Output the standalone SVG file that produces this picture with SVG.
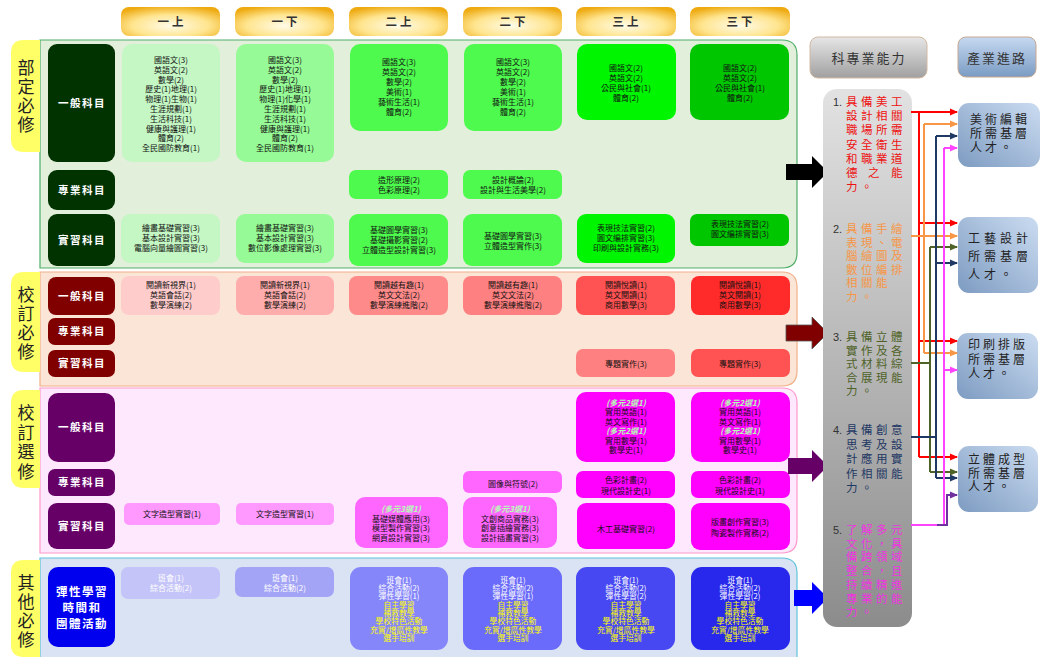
<svg xmlns="http://www.w3.org/2000/svg" width="1041" height="657" viewBox="0 0 1041 657">
<defs>
<radialGradient id="gold" cx="50%" cy="65%" r="70%"><stop offset="0" stop-color="#fffbe8"/><stop offset="0.55" stop-color="#ffe58f"/><stop offset="1" stop-color="#eeaa10"/></radialGradient>
<linearGradient id="grayCol" x1="0" y1="0" x2="0" y2="1"><stop offset="0" stop-color="#e2e2e2"/><stop offset="1" stop-color="#8c8c8c"/></linearGradient>
<linearGradient id="grayHead" x1="0" y1="0" x2="0" y2="1"><stop offset="0" stop-color="#e6e6e6"/><stop offset="1" stop-color="#a0a0a0"/></linearGradient>
<linearGradient id="blueHead" x1="0" y1="0" x2="0" y2="1"><stop offset="0" stop-color="#c6d9f1"/><stop offset="1" stop-color="#7a9bc3"/></linearGradient>
<linearGradient id="career" x1="1" y1="0" x2="0" y2="1"><stop offset="0" stop-color="#cbdcf1"/><stop offset="1" stop-color="#7d9bc1"/></linearGradient>
<marker id="aR" markerWidth="8" markerHeight="8" refX="7" refY="4" orient="auto" markerUnits="userSpaceOnUse"><path d="M0,0.5 L8,4 L0,7.5 z" fill="#ff0000"/></marker>
<marker id="aO" markerWidth="8" markerHeight="8" refX="7" refY="4" orient="auto" markerUnits="userSpaceOnUse"><path d="M0,0.5 L8,4 L0,7.5 z" fill="#f79646"/></marker>
<marker id="aG" markerWidth="8" markerHeight="8" refX="7" refY="4" orient="auto" markerUnits="userSpaceOnUse"><path d="M0,0.5 L8,4 L0,7.5 z" fill="#4f6228"/></marker>
<marker id="aN" markerWidth="8" markerHeight="8" refX="7" refY="4" orient="auto" markerUnits="userSpaceOnUse"><path d="M0,0.5 L8,4 L0,7.5 z" fill="#1f3864"/></marker>
<marker id="aM" markerWidth="8" markerHeight="8" refX="7" refY="4" orient="auto" markerUnits="userSpaceOnUse"><path d="M0,0.5 L8,4 L0,7.5 z" fill="#ff44ff"/></marker>
<marker id="aP" markerWidth="8" markerHeight="8" refX="7" refY="4" orient="auto" markerUnits="userSpaceOnUse"><path d="M0,0.5 L8,4 L0,7.5 z" fill="#7030a0"/></marker>
</defs>
<style>
text{font-family:"Noto Sans CJK TC","Noto Sans CJK SC",sans-serif;}
.t{font-size:8px;text-anchor:middle;fill:#111;}
.ts{font-size:7.8px;text-anchor:middle;}
.w{fill:#fff;}
.y{fill:#ffff00;}
.it{font-style:italic;font-weight:bold;fill:#b4ffb4;}
.hd{font-size:11.5px;font-weight:bold;text-anchor:middle;fill:#333;letter-spacing:3px;}
.lab{font-size:10.5px;font-weight:bold;text-anchor:middle;fill:#fff;letter-spacing:1.5px;}
.tab{font-size:17px;text-anchor:middle;fill:#222;}
.ab{font-size:11.5px;}
.num{font-family:"Liberation Sans",sans-serif;font-size:11px;fill:#333;}
.car{font-size:12px;fill:#222;}
.gh{font-size:13px;text-anchor:middle;fill:#333;letter-spacing:2px;}
.wire{fill:none;stroke-width:2;}
</style>

<g id="headers">
<rect x="121" y="7" width="99" height="29" rx="8" fill="url(#gold)"/><text class="hd" x="172" y="26">一上</text>
<rect x="235" y="7" width="99" height="29" rx="8" fill="url(#gold)"/><text class="hd" x="286" y="26">一下</text>
<rect x="349" y="7" width="99" height="29" rx="8" fill="url(#gold)"/><text class="hd" x="400" y="26">二上</text>
<rect x="463" y="7" width="99" height="29" rx="8" fill="url(#gold)"/><text class="hd" x="514" y="26">二下</text>
<rect x="576" y="7" width="100" height="29" rx="8" fill="url(#gold)"/><text class="hd" x="627" y="26">三上</text>
<rect x="690" y="7" width="100" height="29" rx="8" fill="url(#gold)"/><text class="hd" x="741" y="26">三下</text>
</g>

<g id="sec1">
<path d="M40,40 H782 Q797,40 797,55 V253 Q797,268 782,268 H40 Z" fill="#e2efda" stroke="#4fae6a" stroke-width="1.2"/>
<path d="M40,40 H24 Q11,40 11,53 V139 Q11,152 24,152 H40 Z" fill="#ffff66"/>
<text class="tab"><tspan x="26" y="74">部</tspan><tspan x="26" dy="19">定</tspan><tspan x="26" dy="19">必</tspan><tspan x="26" dy="19">修</tspan></text>
<rect x="48" y="44" width="67" height="118" rx="9" fill="#003300"/><text class="lab" x="82" y="107">一般科目</text>
<rect x="48" y="170" width="67" height="40" rx="9" fill="#003300"/><text class="lab" x="82" y="194">專業科目</text>
<rect x="48" y="214" width="67" height="52" rx="9" fill="#003300"/><text class="lab" x="82" y="244">實習科目</text>

<rect x="122" y="44" width="98" height="118" rx="10" fill="#c4f7c4"/>
<text class="t" y="63"><tspan x="171">國語文(3)</tspan><tspan x="171" dy="9.8">英語文(2)</tspan><tspan x="171" dy="9.8">數學(2)</tspan><tspan x="171" dy="9.8">歷史(1)地理(1)</tspan><tspan x="171" dy="9.8">物理(1)生物(1)</tspan><tspan x="171" dy="9.8">生涯規劃(1)</tspan><tspan x="171" dy="9.8">生活科技(1)</tspan><tspan x="171" dy="9.8">健康與護理(1)</tspan><tspan x="171" dy="9.8">體育(2)</tspan><tspan x="171" dy="9.8">全民國防教育(1)</tspan></text>
<rect x="236" y="44" width="98" height="118" rx="10" fill="#96fa96"/>
<text class="t" y="63"><tspan x="285">國語文(3)</tspan><tspan x="285" dy="9.8">英語文(2)</tspan><tspan x="285" dy="9.8">數學(2)</tspan><tspan x="285" dy="9.8">歷史(1)地理(1)</tspan><tspan x="285" dy="9.8">物理(1)化學(1)</tspan><tspan x="285" dy="9.8">生涯規劃(1)</tspan><tspan x="285" dy="9.8">生活科技(1)</tspan><tspan x="285" dy="9.8">健康與護理(1)</tspan><tspan x="285" dy="9.8">體育(2)</tspan><tspan x="285" dy="9.8">全民國防教育(1)</tspan></text>
<rect x="350" y="44" width="98" height="87" rx="10" fill="#4dfa4d"/>
<text class="t" y="65"><tspan x="399">國語文(3)</tspan><tspan x="399" dy="10">英語文(2)</tspan><tspan x="399" dy="10">數學(2)</tspan><tspan x="399" dy="10">美術(1)</tspan><tspan x="399" dy="10">藝術生活(1)</tspan><tspan x="399" dy="10">體育(2)</tspan></text>
<rect x="464" y="44" width="98" height="87" rx="10" fill="#4dfa4d"/>
<text class="t" y="65"><tspan x="513">國語文(3)</tspan><tspan x="513" dy="10">英語文(2)</tspan><tspan x="513" dy="10">數學(2)</tspan><tspan x="513" dy="10">美術(1)</tspan><tspan x="513" dy="10">藝術生活(1)</tspan><tspan x="513" dy="10">體育(2)</tspan></text>
<rect x="577" y="44" width="99" height="76" rx="10" fill="#00f500"/>
<text class="t" y="71"><tspan x="626">國語文(2)</tspan><tspan x="626" dy="10">英語文(2)</tspan><tspan x="626" dy="10">公民與社會(1)</tspan><tspan x="626" dy="10">體育(2)</tspan></text>
<rect x="690" y="44" width="99" height="76" rx="10" fill="#00c600"/>
<text class="t" y="71"><tspan x="740">國語文(2)</tspan><tspan x="740" dy="10">英語文(2)</tspan><tspan x="740" dy="10">公民與社會(1)</tspan><tspan x="740" dy="10">體育(2)</tspan></text>

<rect x="349" y="170" width="99" height="29" rx="7" fill="#4dfa4d"/>
<text class="t" y="183"><tspan x="399">造形原理(2)</tspan><tspan x="399" dy="10">色彩原理(2)</tspan></text>
<rect x="463" y="170" width="99" height="29" rx="7" fill="#4dfa4d"/>
<text class="t" y="183"><tspan x="513">設計概論(2)</tspan><tspan x="513" dy="10">設計與生活美學(2)</tspan></text>

<rect x="121" y="214" width="99" height="49" rx="9" fill="#c4f7c4"/>
<text class="t" y="231"><tspan x="171">繪畫基礎實習(3)</tspan><tspan x="171" dy="9.8">基本設計實習(3)</tspan><tspan x="171" dy="9.8">電腦向量繪圖實習(3)</tspan></text>
<rect x="236" y="214" width="98" height="49" rx="9" fill="#96fa96"/>
<text class="t" y="231"><tspan x="285">繪畫基礎實習(3)</tspan><tspan x="285" dy="9.8">基本設計實習(3)</tspan><tspan x="285" dy="9.8">數位影像處理實習(3)</tspan></text>
<rect x="349" y="214" width="99" height="52" rx="9" fill="#4dfa4d"/>
<text class="t" y="233"><tspan x="399">基礎圖學實習(3)</tspan><tspan x="399" dy="9.8">基礎攝影實習(2)</tspan><tspan x="399" dy="9.8">立體造型設計實習(3)</tspan></text>
<rect x="463" y="214" width="99" height="52" rx="9" fill="#4dfa4d"/>
<text class="t" y="239"><tspan x="513">基礎圖學實習(3)</tspan><tspan x="513" dy="9.8">立體造型實作(3)</tspan></text>
<rect x="577" y="214" width="98" height="49" rx="9" fill="#00f500"/>
<text class="t" y="231"><tspan x="626">表現技法實習(2)</tspan><tspan x="626" dy="9.8">圖文編排實習(3)</tspan><tspan x="626" dy="9.8">印刷與設計實務(3)</tspan></text>
<rect x="690" y="214" width="99" height="32" rx="7" fill="#00c600"/>
<text class="t" y="227"><tspan x="740">表現技法實習(2)</tspan><tspan x="740" dy="10">圖文編排實習(3)</tspan></text>
</g>

<g id="sec2">
<path d="M40,272 H782 Q797,272 797,287 V371 Q797,386 782,386 H40 Z" fill="#fbe5d6" stroke="#f0b088" stroke-width="1.2"/>
<path d="M40,272 H24 Q11,272 11,285 V359 Q11,372 24,372 H40 Z" fill="#ffff66"/>
<text class="tab"><tspan x="26" y="301">校</tspan><tspan x="26" dy="19">訂</tspan><tspan x="26" dy="19">必</tspan><tspan x="26" dy="19">修</tspan></text>
<rect x="48" y="277" width="67" height="38" rx="8" fill="#800000"/><text class="lab" x="82" y="300">一般科目</text>
<rect x="48" y="318" width="67" height="27" rx="7" fill="#800000"/><text class="lab" x="82" y="335">專業科目</text>
<rect x="48" y="350" width="67" height="27" rx="7" fill="#800000"/><text class="lab" x="82" y="367">實習科目</text>

<rect x="121" y="276" width="99" height="39" rx="8" fill="#ffcccc"/>
<text class="t" y="288"><tspan x="171">閱讀新視界(1)</tspan><tspan x="171" dy="10">英語會話(2)</tspan><tspan x="171" dy="10">數學演練(2)</tspan></text>
<rect x="236" y="276" width="98" height="39" rx="8" fill="#ffacac"/>
<text class="t" y="288"><tspan x="285">閱讀新視界(1)</tspan><tspan x="285" dy="10">英語會話(2)</tspan><tspan x="285" dy="10">數學演練(2)</tspan></text>
<rect x="349" y="276" width="99" height="39" rx="8" fill="#ff8a8a"/>
<text class="t" y="288"><tspan x="399">閱讀越有趣(1)</tspan><tspan x="399" dy="10">英文文法(2)</tspan><tspan x="399" dy="10">數學演練進階(2)</tspan></text>
<rect x="463" y="276" width="99" height="39" rx="8" fill="#ff8080"/>
<text class="t" y="288"><tspan x="513">閱讀越有趣(1)</tspan><tspan x="513" dy="10">英文文法(2)</tspan><tspan x="513" dy="10">數學演練進階(2)</tspan></text>
<rect x="576" y="276" width="99" height="39" rx="8" fill="#ff5252"/>
<text class="t" y="288"><tspan x="626">閱讀悅讀(1)</tspan><tspan x="626" dy="10">英文閱讀(1)</tspan><tspan x="626" dy="10">商用數學(3)</tspan></text>
<rect x="691" y="276" width="99" height="39" rx="8" fill="#ff2b2b"/>
<text class="t" y="288"><tspan x="740">閱讀悅讀(1)</tspan><tspan x="740" dy="10">英文閱讀(1)</tspan><tspan x="740" dy="10">商用數學(3)</tspan></text>
<rect x="576" y="349" width="99" height="28" rx="7" fill="#ff8080"/><text class="t" x="626" y="367">專題實作(3)</text>
<rect x="691" y="349" width="99" height="28" rx="7" fill="#ff5252"/><text class="t" x="740" y="367">專題實作(3)</text>
</g>

<g id="sec3">
<path d="M40,388 H782 Q797,388 797,403 V538 Q797,553 782,553 H40 Z" fill="#fde8fd" stroke="#ff99cc" stroke-width="1.2"/>
<path d="M40,390 H24 Q11,390 11,403 V475 Q11,488 24,488 H40 Z" fill="#ffff66"/>
<text class="tab"><tspan x="26" y="419">校</tspan><tspan x="26" dy="19.5">訂</tspan><tspan x="26" dy="19.5">選</tspan><tspan x="26" dy="19.5">修</tspan></text>
<rect x="48" y="393" width="67" height="69" rx="10" fill="#660066"/><text class="lab" x="82" y="431">一般科目</text>
<rect x="48" y="469" width="67" height="27" rx="7" fill="#660066"/><text class="lab" x="82" y="486">專業科目</text>
<rect x="48" y="503" width="67" height="46" rx="9" fill="#660066"/><text class="lab" x="82" y="530">實習科目</text>

<rect x="576" y="392" width="99" height="70" rx="10" fill="#ff00ff"/>
<text class="t" y="406"><tspan x="626" class="it">(多元2選1)</tspan><tspan x="626" dy="9.4">實用英語(1)</tspan><tspan x="626" dy="9.4">英文寫作(1)</tspan><tspan x="626" dy="9.4" class="it">(多元2選1)</tspan><tspan x="626" dy="9.4">實用數學(1)</tspan><tspan x="626" dy="9.4">數學史(1)</tspan></text>
<rect x="691" y="392" width="99" height="70" rx="10" fill="#ff00ff"/>
<text class="t" y="406"><tspan x="740" class="it">(多元2選1)</tspan><tspan x="740" dy="9.4">實用英語(1)</tspan><tspan x="740" dy="9.4">英文寫作(1)</tspan><tspan x="740" dy="9.4" class="it">(多元2選1)</tspan><tspan x="740" dy="9.4">實用數學(1)</tspan><tspan x="740" dy="9.4">數學史(1)</tspan></text>

<rect x="463" y="471" width="99" height="22" rx="6" fill="#ff66ff"/><text class="t" x="513" y="487">圖像與符號(2)</text>
<rect x="576" y="471" width="99" height="27" rx="7" fill="#ff00ff"/>
<text class="t" y="483"><tspan x="626">色彩計畫(2)</tspan><tspan x="626" dy="11">現代設計史(1)</tspan></text>
<rect x="691" y="471" width="99" height="27" rx="7" fill="#ff00ff"/>
<text class="t" y="483"><tspan x="740">色彩計畫(2)</tspan><tspan x="740" dy="11">現代設計史(1)</tspan></text>

<rect x="124" y="503" width="96" height="22" rx="5" fill="#ff99ff"/><text class="t" x="172" y="517">文字造型實習(1)</text>
<rect x="236" y="503" width="98" height="22" rx="5" fill="#ff99ff"/><text class="t" x="285" y="517">文字造型實習(1)</text>
<rect x="355" y="497" width="93" height="51" rx="10" fill="#ff66ff"/>
<text class="t" y="512"><tspan x="401" class="it">(多元3選1)</tspan><tspan x="401" dy="9.7">基礎媒體應用(3)</tspan><tspan x="401" dy="9.7">模型製作實習(3)</tspan><tspan x="401" dy="9.7">網頁設計實習(3)</tspan></text>
<rect x="463" y="497" width="94" height="51" rx="10" fill="#ff66ff"/>
<text class="t" y="512"><tspan x="510" class="it">(多元3選1)</tspan><tspan x="510" dy="9.7">文創商品實務(3)</tspan><tspan x="510" dy="9.7">創意插繪實務(3)</tspan><tspan x="510" dy="9.7">設計插畫實習(3)</tspan></text>
<rect x="577" y="503" width="98" height="46" rx="9" fill="#ff00ff"/><text class="t" x="626" y="532">木工基礎實習(2)</text>
<rect x="691" y="503" width="99" height="47" rx="9" fill="#ff00ff"/>
<text class="t" y="525"><tspan x="740">版畫創作實習(3)</tspan><tspan x="740" dy="11">陶瓷製作實務(2)</tspan></text>
</g>

<g id="sec4">
<path d="M40,558 H782 Q797,558 797,573 V670 H40 Z" fill="#dae3f3" stroke="#5fc3dc" stroke-width="1.2"/>
<path d="M40,560 H24 Q11,560 11,573 V645 Q11,657 24,657 H40 Z" fill="#ffff66"/>
<text class="tab"><tspan x="26" y="589">其</tspan><tspan x="26" dy="19">他</tspan><tspan x="26" dy="19">必</tspan><tspan x="26" dy="19">修</tspan></text>
<rect x="48" y="567" width="67" height="80" rx="10" fill="#0000ee"/>
<text class="lab" style="font-size:11.5px"><tspan x="82" y="596">彈性學習</tspan><tspan x="82" dy="16">時間和</tspan><tspan x="82" dy="16">團體活動</tspan></text>

<rect x="121" y="567" width="99" height="32" rx="7" fill="#c4c4f8"/>
<text class="t w" y="581"><tspan x="171">班會(1)</tspan><tspan x="171" dy="10">綜合活動(2)</tspan></text>
<rect x="235" y="567" width="99" height="30" rx="7" fill="#a4a4f6"/>
<text class="t w" y="581"><tspan x="285">班會(1)</tspan><tspan x="285" dy="10">綜合活動(2)</tspan></text>

<rect x="350" y="567" width="98" height="83" rx="11" fill="#8686fb"/>
<text class="ts" y="583"><tspan x="399" class="w">班會(1)</tspan><tspan x="399" dy="8.2" class="w">綜合活動(2)</tspan><tspan x="399" dy="8.2" class="w">彈性學習(1)</tspan><tspan x="399" dy="8.3" class="y">自主學習</tspan><tspan x="399" dy="8.3" class="y">補救教學</tspan><tspan x="399" dy="8.3" class="y">學校特色活動</tspan><tspan x="399" dy="8.3" class="y">充實/增廣性教學</tspan><tspan x="399" dy="8.3" class="y">選手培訓</tspan></text>
<rect x="463" y="567" width="99" height="83" rx="11" fill="#6a6afb"/>
<text class="ts" y="583"><tspan x="513" class="w">班會(1)</tspan><tspan x="513" dy="8.2" class="w">綜合活動(2)</tspan><tspan x="513" dy="8.2" class="w">彈性學習(1)</tspan><tspan x="513" dy="8.3" class="y">自主學習</tspan><tspan x="513" dy="8.3" class="y">補救教學</tspan><tspan x="513" dy="8.3" class="y">學校特色活動</tspan><tspan x="513" dy="8.3" class="y">充實/增廣性教學</tspan><tspan x="513" dy="8.3" class="y">選手培訓</tspan></text>
<rect x="576" y="567" width="99" height="83" rx="11" fill="#4848f2"/>
<text class="ts" y="583"><tspan x="626" class="w">班會(1)</tspan><tspan x="626" dy="8.2" class="w">綜合活動(2)</tspan><tspan x="626" dy="8.2" class="w">彈性學習(2)</tspan><tspan x="626" dy="8.3" class="y">自主學習</tspan><tspan x="626" dy="8.3" class="y">補救教學</tspan><tspan x="626" dy="8.3" class="y">學校特色活動</tspan><tspan x="626" dy="8.3" class="y">充實/增廣性教學</tspan><tspan x="626" dy="8.3" class="y">選手培訓</tspan></text>
<rect x="691" y="567" width="99" height="83" rx="11" fill="#2828ec"/>
<text class="ts" y="583"><tspan x="740" class="w">班會(1)</tspan><tspan x="740" dy="8.2" class="w">綜合活動(2)</tspan><tspan x="740" dy="8.2" class="w">彈性學習(2)</tspan><tspan x="740" dy="8.3" class="y">自主學習</tspan><tspan x="740" dy="8.3" class="y">補救教學</tspan><tspan x="740" dy="8.3" class="y">學校特色活動</tspan><tspan x="740" dy="8.3" class="y">充實/增廣性教學</tspan><tspan x="740" dy="8.3" class="y">選手培訓</tspan></text>
</g>

<g id="block-arrows">
<polygon points="786,164 812,164 812,156 828,172 812,188 812,180 786,180" fill="#000"/>
<polygon points="786,325 812,325 812,317 828,333 812,349 812,341 786,341" fill="#800000" stroke="#555" stroke-width="0.8"/>
<polygon points="788,458 812,458 812,450 828,466 812,482 812,474 788,474" fill="#660066"/>
<polygon points="794,590 812,590 812,582 828,598 812,614 812,606 794,606" fill="#0000ff"/>
</g>

<g id="abilities">
<rect x="810" y="37" width="117" height="41" rx="8" fill="url(#grayHead)" stroke="#d2b8a0" stroke-width="1"/>
<text class="gh" x="869" y="63">科專業能力</text>
<rect x="823" y="89" width="89" height="538" rx="14" fill="url(#grayCol)"/>
<text class="num" x="833" y="106">1.</text>
<text class="ab" fill="#ee1111" y="106"><tspan x="846 861 876 891">具備美工</tspan><tspan x="846 861 876 891" dy="14.2">設計相關</tspan><tspan x="846 861 876 891" dy="14.2">職場所需</tspan><tspan x="846 861 876 891" dy="14.2">安全衛生</tspan><tspan x="846 861 876 891" dy="14.2">和職業道</tspan><tspan x="846 868 891" dy="14.2">德之能</tspan><tspan x="846 861" dy="14.2">力。</tspan></text>
<text class="num" x="833" y="233">2.</text>
<text class="ab" fill="#f79646" y="233"><tspan x="846 861 876 891">具備手繪</tspan><tspan x="846 861 876 891" dy="13.6">表現、電</tspan><tspan x="846 861 876 891" dy="13.6">腦繪圖及</tspan><tspan x="846 861 876 891" dy="13.6">數位編排</tspan><tspan x="846 861 876" dy="13.6">相關能</tspan><tspan x="846 861" dy="13.6">力。</tspan></text>
<text class="num" x="833" y="341">3.</text>
<text class="ab" fill="#4f6228" y="341"><tspan x="846 861 876 891">具備立體</tspan><tspan x="846 861 876 891" dy="13.5">實作及各</tspan><tspan x="846 861 876 891" dy="13.5">式材料綜</tspan><tspan x="846 861 876 891" dy="13.5">合展現能</tspan><tspan x="846 861" dy="13.5">力。</tspan></text>
<text class="num" x="833" y="434">4.</text>
<text class="ab" fill="#1f3864" y="434"><tspan x="846 861 876 891">具備創意</tspan><tspan x="846 861 876 891" dy="14.5">思考及設</tspan><tspan x="846 861 876 891" dy="14.5">計應用實</tspan><tspan x="846 861 876 891" dy="14.5">作相關能</tspan><tspan x="846 861" dy="14.5">力。</tspan></text>
<text class="num" x="833" y="534">5.</text>
<text class="ab" fill="#f033e0" y="534"><tspan x="846 861 876 891">了解多元</tspan><tspan x="846 861 876 891" dy="13.7">文化，具</tspan><tspan x="846 861 876 891" dy="13.7">備跨領域</tspan><tspan x="846 861 876 891" dy="13.7">整合，且</tspan><tspan x="846 861 876 891" dy="13.7">持續精進</tspan><tspan x="846 861 876 891" dy="13.7">專業的能</tspan><tspan x="846 861" dy="13.7">力。</tspan></text>
</g>

<g id="careers">
<rect x="958" y="37" width="78" height="40" rx="8" fill="url(#blueHead)" stroke="#c8a890" stroke-width="1"/>
<text class="gh" x="997" y="63">產業進路</text>
<g id="career1"><rect x="958" y="103" width="82" height="64" rx="11" fill="url(#career)"/>
<text class="car" y="124"><tspan x="970 985 1000 1015">美術編輯</tspan><tspan x="970 985 1000 1015" dy="14">所需基層</tspan><tspan x="970 985 1000" dy="14">人才。</tspan></text></g>
<g id="career2"><rect x="958" y="217" width="80" height="76" rx="11" fill="url(#career)"/>
<text class="car" y="243"><tspan x="968 984 1000 1016">工藝設計</tspan><tspan x="968 984 1000 1016" dy="18">所需基層</tspan><tspan x="968 984 1000" dy="18">人才。</tspan></text></g>
<g id="career3"><rect x="957" y="333" width="81" height="66" rx="11" fill="url(#career)"/>
<text class="car" y="349"><tspan x="968 983 998 1013">印刷排版</tspan><tspan x="968 983 998 1013" dy="14.5">所需基層</tspan><tspan x="968 983 998" dy="14.5">人才。</tspan></text></g>
<g id="career4"><rect x="958" y="446" width="80" height="66" rx="11" fill="url(#career)"/>
<text class="car" y="464"><tspan x="968 983 998 1013">立體成型</tspan><tspan x="968 983 998 1013" dy="13.5">所需基層</tspan><tspan x="968 983 998" dy="13.5">人才。</tspan></text></g>
</g>

<g id="connectors">
<path class="wire" stroke="#ff0000" d="M919,112 V457"/>
<path class="wire" stroke="#ff0000" d="M911,112 H957" marker-end="url(#aR)"/>
<path class="wire" stroke="#ff0000" d="M919,223 H957" marker-end="url(#aR)"/>
<path class="wire" stroke="#ff0000" d="M919,341 H957" marker-end="url(#aR)"/>
<path class="wire" stroke="#ff0000" d="M919,457 H957" marker-end="url(#aR)"/>
<path class="wire" stroke="#f79646" d="M924,124 V353"/>
<path class="wire" stroke="#f79646" d="M924,124 H957" marker-end="url(#aO)"/>
<path class="wire" stroke="#f79646" d="M911,236 H957" marker-end="url(#aO)"/>
<path class="wire" stroke="#f79646" d="M924,353 H957" marker-end="url(#aO)"/>
<path class="wire" stroke="#4f6228" d="M911,363 H930"/>
<path class="wire" stroke="#4f6228" d="M930,247 V472"/>
<path class="wire" stroke="#4f6228" d="M930,247 H957" marker-end="url(#aG)"/>
<path class="wire" stroke="#4f6228" d="M930,472 H957" marker-end="url(#aG)"/>
<path class="wire" stroke="#1f3864" d="M911,437 H936"/>
<path class="wire" stroke="#1f3864" d="M936,136 V478"/>
<path class="wire" stroke="#1f3864" d="M936,136 H957" marker-end="url(#aN)"/>
<path class="wire" stroke="#1f3864" d="M936,263 H957" marker-end="url(#aN)"/>
<path class="wire" stroke="#1f3864" d="M936,478 H957" marker-end="url(#aN)"/>
<path class="wire" stroke="#ff44ff" d="M944,148 V525 H911"/>
<path class="wire" stroke="#ff44ff" d="M944,148 H957" marker-end="url(#aM)"/>
<path class="wire" stroke="#ff44ff" d="M944,370 H957" marker-end="url(#aM)"/>
<path class="wire" stroke="#7030a0" d="M937,525 H947 V495 H957" marker-end="url(#aP)"/>
</g>
</svg>
